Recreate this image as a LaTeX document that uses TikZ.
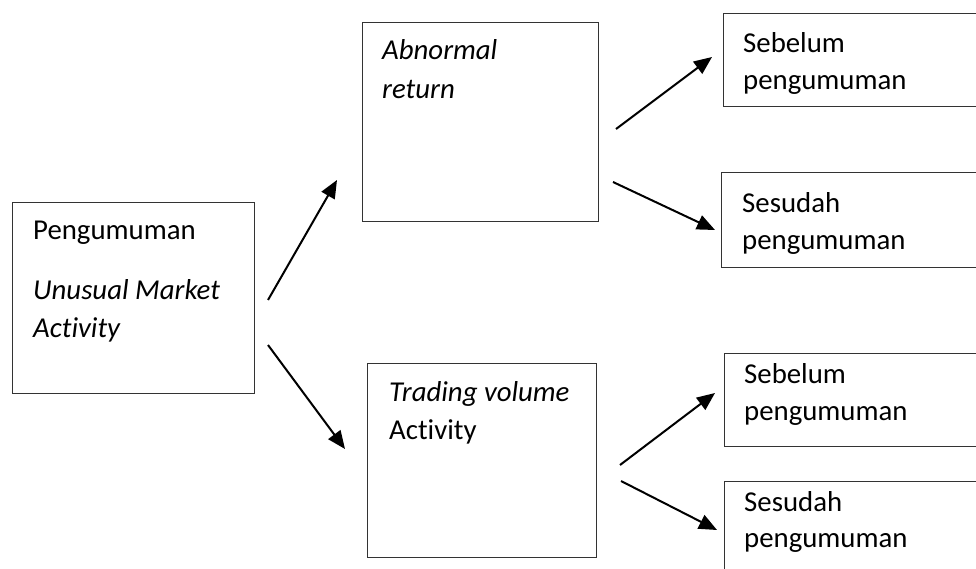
\documentclass[tikz,border=0pt]{standalone}
\usepackage{fontspec}
\setmainfont{Carlito}[Ligatures=NoCommon]
\usetikzlibrary{arrows.meta}
\begin{document}
\begin{tikzpicture}[x=1pt,y=-1pt,
  box/.style 2 args={draw=black!80, line width=1.2pt, anchor=north west, inner sep=0pt, minimum width=#1, minimum height=#2},
  txt/.style={anchor=base west, inner sep=0pt, font=\fontsize{28.8}{34}\selectfont},
  arr/.style={-{Triangle[length=18pt,width=15pt]}, line width=2pt, black}]
\useasboundingbox (0,0) rectangle (976,569);
\clip (0,0) rectangle (976,569);
% boxes
\node[box={242pt}{191pt}] (L) at (12,202) {};
\node[box={236pt}{199pt}] (AR) at (362,22) {};
\node[box={229pt}{194pt}] (TV) at (367,363) {};
\node[box={300pt}{93pt}] (R1) at (723,13) {};
\node[box={300pt}{95pt}] (R2) at (721,172) {};
\node[box={300pt}{93pt}] (R3) at (724,353) {};
\node[box={300pt}{120pt}] (R4) at (724,481) {};
% texts
\node[txt] (t1) at (33,240) {Pengumuman};
\node[txt] (t2) at (33,299) {\itshape Unusual Market};
\node[txt] (t3) at (33,337) {\itshape Activity};
\node[txt] (t4) at (382,60) {\itshape Abnormal};
\node[txt] (t5) at (382,99) {\itshape return};
\node[txt] (t6) at (389,401) {\itshape Trading volume};
\node[txt] (t7) at (389,439) {Activity};
\node[txt] (t8) at (743,53) {Sebelum};
\node[txt] (t9) at (743,90) {pengumuman};
\node[txt] (t10) at (742,213) {Sesudah};
\node[txt] (t11) at (742,250) {pengumuman};
\node[txt] (t12) at (744,383) {Sebelum};
\node[txt] (t13) at (744,420) {pengumuman};
\node[txt] (t14) at (744,511) {Sesudah};
\node[txt] (t15) at (744,547) {pengumuman};
% arrow end points
\coordinate (a1s) at (268,300); \coordinate (a1e) at (337,180);
\coordinate (a2s) at (268,345); \coordinate (a2e) at (345,449);
\coordinate (a3s) at (616,129); \coordinate (a3e) at (712,57);
\coordinate (a4s) at (613,182); \coordinate (a4e) at (715,230);
\coordinate (a5s) at (620,465); \coordinate (a5e) at (715,393);
\coordinate (a6s) at (621,481); \coordinate (a6e) at (717,530);
\draw[arr] (a1s) -- (a1e);
\draw[arr] (a2s) -- (a2e);
\draw[arr] (a3s) -- (a3e);
\draw[arr] (a4s) -- (a4e);
\draw[arr] (a5s) -- (a5e);
\draw[arr] (a6s) -- (a6e);
\end{tikzpicture}
\end{document}
